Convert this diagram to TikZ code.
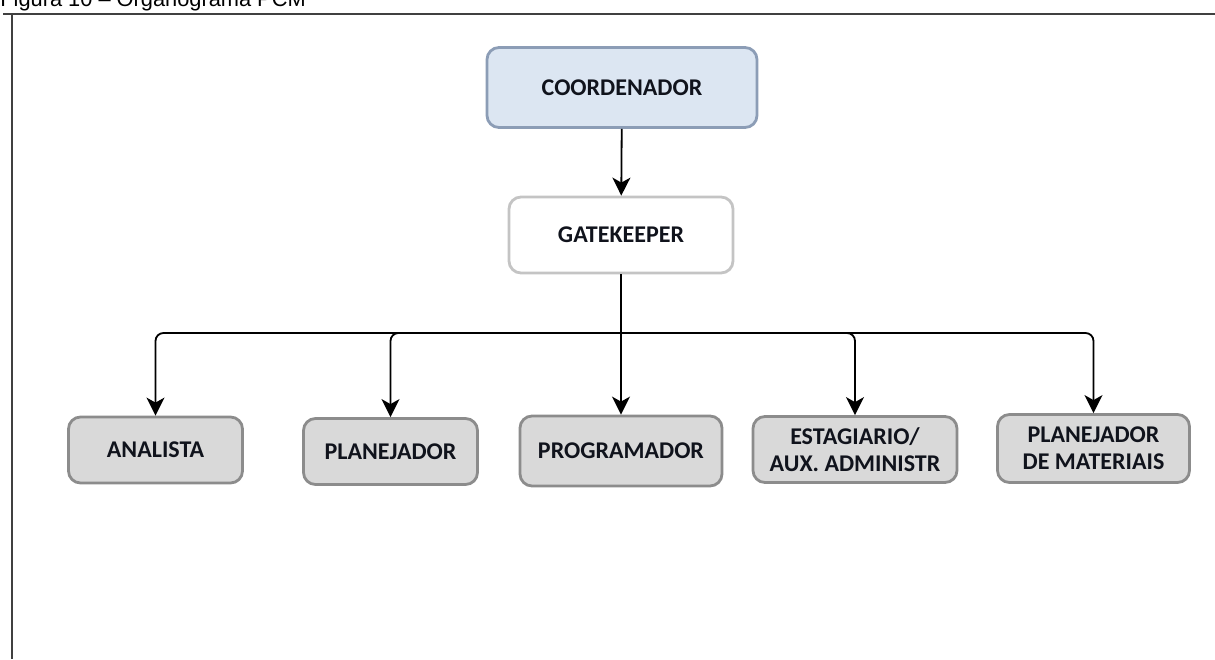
\documentclass[tikz,border=0pt]{standalone}
\usepackage{fontspec}
\setmainfont{Carlito}
\newfontfamily\titlefont{Liberation Sans}
\usepackage{tikz}
\usetikzlibrary{arrows.meta}
\definecolor{azulclaro}{HTML}{DCE6F2}
\definecolor{azulborda}{HTML}{8C9DB6}
\definecolor{cinzaclaro}{HTML}{D9D9D9}
\definecolor{cinzaborda}{HTML}{8C8C8C}
\definecolor{cinzabranco}{HTML}{C4C4C4}
\definecolor{moldura}{HTML}{404040}
\definecolor{textoescuro}{HTML}{10131C}

\begin{document}
\begin{tikzpicture}[x=0.5pt,y=-0.5pt,
    cargo/.style={draw=cinzaborda,fill=cinzaclaro,line width=1.4pt,rounded corners=6pt,text=textoescuro,
        font=\fontsize{12}{13.5}\selectfont\bfseries,align=center,inner sep=2pt},
    liga/.style={line width=0.9pt,rounded corners=4pt,-{Stealth[length=9pt,width=9pt,inset=2.5pt]}}]
            \useasboundingbox (0,0) rectangle (1215,659);
            % titulo e moldura
            \node [anchor=base west,inner sep=0pt,font=\titlefont\fontsize{10.9}{12}\selectfont] (titulo) at (0,6) {Figura 10 – Organograma PCM};
            \draw [moldura,line width=1pt] (3,14) -- (1215,14);
            \draw [moldura,line width=1pt] (12,14) -- (12,659);
            % caixas
            \node [cargo,draw=azulborda,fill=azulclaro,minimum width=135pt,minimum height=40pt] (coord) at (622,87.5) {COORDENADOR};
            \node [cargo,draw=cinzabranco,fill=white,minimum width=112pt,minimum height=38pt] (gate) at (621,235) {GATEKEEPER};
            \node [cargo,minimum width=87pt,minimum height=33pt] (ana) at (155.5,450) {ANALISTA};
            \node [cargo,minimum width=87pt,minimum height=33pt] (plan) at (390.5,451.5) {PLANEJADOR};
            \node [cargo,minimum width=101pt,minimum height=35pt] (prog) at (621,451) {PROGRAMADOR};
            \node [cargo,minimum width=102pt,minimum height=33pt] (estag) at (855,449.5) {ESTAGIARIO/\\AUX. ADMINISTR};
            \node [cargo,minimum width=96pt,minimum height=34pt] (mat) at (1093.5,448.5) {PLANEJADOR\\DE MATERIAIS};
            % ligacoes
            \coordinate (bus) at (621,333);
            \draw [liga] (coord) -- (gate);
            \draw [line width=0.9pt] (gate.south) -- (bus);
            \draw [liga] (bus) -| (ana.north);
            \draw [liga] (bus) -| (plan.north);
            \draw [liga] (bus) -- (prog.north);
            \draw [liga] (bus) -| (estag.north);
            \draw [liga] (bus) -| (mat.north);
        \end{tikzpicture}
\end{document}
